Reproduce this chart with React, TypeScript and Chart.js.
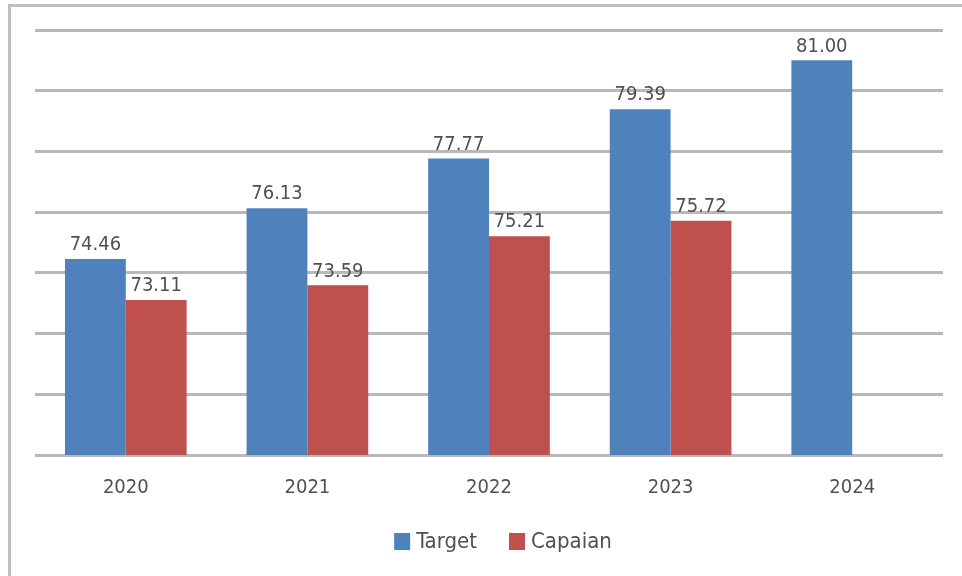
import React, { useEffect, useRef } from "react";
import { Chart, registerables } from "chart.js";

Chart.register(...registerables);

const categories = ["2020", "2021", "2022", "2023", "2024"];
const targetValues = [74.46, 76.13, 77.77, 79.39, 81.0];
const capaianValues: (number | null)[] = [73.11, 73.59, 75.21, 75.72, null];
const seriesNames = ["Target", "Capaian"];
const seriesColors = ["#4f81bd", "#c0504d"];
const yMin = 68;
const yMax = 82;
const yStep = 2;

const FONT = "'Liberation Sans Narrow', 'DejaVu Sans Condensed', 'Liberation Sans', sans-serif";
const TEXT_COLOR = "#505050";

const frameBorder = {
  id: "frameBorder",
  beforeDraw(chart: any) {
    const ctx = chart.ctx;
    ctx.save();
    ctx.fillStyle = "#ffffff";
    ctx.fillRect(0, 0, chart.width, chart.height);
    ctx.fillStyle = "#c0c0c0";
    ctx.fillRect(8, 4, 3, chart.height - 4);
    ctx.fillRect(8, 4, chart.width - 8, 3);
    ctx.restore();
  },
};

const dataLabels = {
  id: "dataLabels",
  afterDatasetsDraw(chart: any) {
    const ctx = chart.ctx;
    ctx.save();
    ctx.font = `20px ${FONT}`;
    ctx.fillStyle = TEXT_COLOR;
    ctx.textAlign = "center";
    ctx.textBaseline = "bottom";
    chart.data.datasets.forEach((ds: any, di: number) => {
      const meta = chart.getDatasetMeta(di);
      meta.data.forEach((el: any, i: number) => {
        const v = ds.data[i];
        if (v === null || v === undefined) return;
        ctx.fillText(Number(v).toFixed(2), el.x, el.y - 4);
      });
    });
    ctx.restore();
  },
};

const customLegend = {
  id: "customLegend",
  afterDraw(chart: any) {
    const ctx = chart.ctx;
    ctx.save();
    ctx.font = `22px ${FONT}`;
    ctx.textBaseline = "middle";
    ctx.textAlign = "left";
    const box = 16;
    const gap = 6;
    const itemGap = 32;
    const widths = chart.data.datasets.map((d: any) => ctx.measureText(d.label).width);
    const total =
      widths.reduce((a: number, w: number) => a + w + box + gap, 0) + itemGap * (widths.length - 1);
    const cx = (chart.chartArea.left + chart.chartArea.right) / 2 + 14;
    const cy = 541;
    let x = cx - total / 2;
    chart.data.datasets.forEach((d: any, i: number) => {
      ctx.fillStyle = d.backgroundColor;
      ctx.fillRect(x, cy - box / 2, box, box + 1);
      x += box + gap;
      ctx.fillStyle = TEXT_COLOR;
      ctx.fillText(d.label, x, cy + 1);
      x += widths[i] + itemGap;
    });
    ctx.restore();
  },
};

export default function App() {
  const ref = useRef<HTMLCanvasElement | null>(null);
  useEffect(() => {
    if (!ref.current) return;
    const chart = new Chart(ref.current, {
      type: "bar",
      data: {
        labels: categories,
        datasets: [
          {
            label: seriesNames[0],
            data: targetValues,
            backgroundColor: seriesColors[0],
            categoryPercentage: 0.67,
            barPercentage: 1.0,
          },
          {
            label: seriesNames[1],
            data: capaianValues,
            backgroundColor: seriesColors[1],
            categoryPercentage: 0.67,
            barPercentage: 1.0,
          },
        ],
      },
      options: {
        animation: false,
        responsive: false,
        maintainAspectRatio: false,
        layout: { padding: { left: 35, right: 19, top: 30, bottom: 63 } },
        plugins: {
          legend: { display: false },
          tooltip: { enabled: false },
        },
        scales: {
          x: {
            grid: { display: false },
            border: { display: false },
            ticks: {
              font: { family: FONT, size: 20 },
              color: TEXT_COLOR,
              padding: 13,
            },
          },
          y: {
            min: yMin,
            max: yMax,
            ticks: { stepSize: yStep, display: false },
            grid: { color: "#b8b8b8", lineWidth: 3, drawTicks: false },
            border: { display: false },
          },
        },
      },
      plugins: [frameBorder, dataLabels, customLegend],
    });
    return () => chart.destroy();
  }, []);
  return (
    <div style={{ position: "absolute", left: 0, top: 0, width: 962, height: 576 }}>
      <canvas ref={ref} width={962} height={576} style={{ display: "block" }} />
    </div>
  );
}
